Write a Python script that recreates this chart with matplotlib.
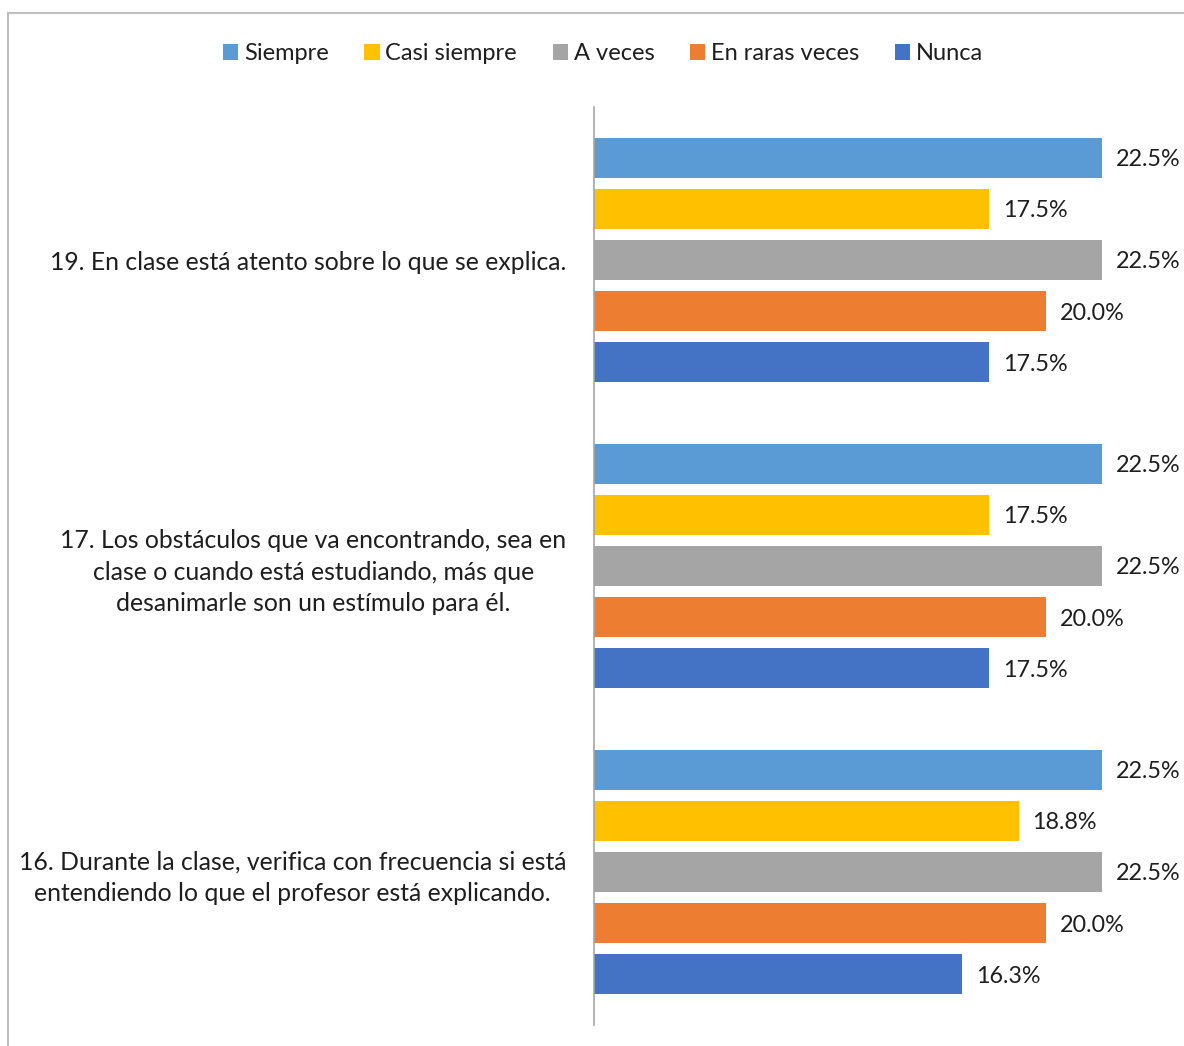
import matplotlib.pyplot as plt
import numpy as np

plt.rcParams['font.family'] = ['Lato', 'DejaVu Sans']

# Data
categories = [
    '19. En clase está atento sobre lo que se explica.',
    '17. Los obstáculos que va encontrando, sea en\nclase o cuando está estudiando, más que\ndesanimarle son un estímulo para él.',
    '16. Durante la clase, verifica con frecuencia si está\nentendiendo lo que el profesor está explicando.',
]
series = ['Siempre', 'Casi siempre', 'A veces', 'En raras veces', 'Nunca']
values = {
    'Siempre': [22.5, 22.5, 22.5],
    'Casi siempre': [17.5, 17.5, 18.8],
    'A veces': [22.5, 22.5, 22.5],
    'En raras veces': [20.0, 20.0, 20.0],
    'Nunca': [17.5, 17.5, 16.3],
}
colors = ['#5b9bd5', '#ffc000', '#a5a5a5', '#ed7d31', '#4472c4']
TEXT = '#1e1e1e'

W, H = 1184, 1046
fig = plt.figure(figsize=(W / 100, H / 100), dpi=100)
ax = fig.add_axes([594 / W, (H - 1025) / H, (W - 594) / W, (1025 - 107) / H])

slot = 51.2 / 306
bar_h = 40 / 306
y = np.arange(len(categories))
for k, name in enumerate(series):
    pos = y + (k - 2) * slot
    ax.barh(pos, values[name], height=bar_h, color=colors[k], label=name)
    for yy, v in zip(pos, values[name]):
        ax.text(v + 14 / 22.58, yy + 0.006, f'{v:.1f}%', va='center', ha='left',
                fontsize=16.8, color=TEXT, clip_on=False)

ax.set_xlim(0, (W - 594) / 22.58)
ax.set_ylim(len(categories) - 0.5, -0.5)
ax.set_yticks(y)
ax.set_yticklabels(categories, fontsize=17.8, color=TEXT, multialignment='center',
                   linespacing=1.44)
ax.tick_params(axis='y', length=0, pad=20)
ax.set_xticks([])
for side in ['top', 'right', 'bottom']:
    ax.spines[side].set_visible(False)
ax.spines['left'].set_color('#a6a6a6')
ax.spines['left'].set_linewidth(1.2)

# chart frame edges (left and top visible)
fig.add_artist(plt.Line2D([8 / W, 8 / W], [0, (H - 13) / H], color='#bfbfbf', lw=1.5))
fig.add_artist(plt.Line2D([8 / W, 1], [(H - 13) / H, (H - 13) / H], color='#bfbfbf', lw=1.5))

fig.legend(loc='center', bbox_to_anchor=(603 / W, (H - 54) / H), ncol=5, frameon=False,
           fontsize=17, handlelength=0.65, handleheight=0.65, handletextpad=0.25,
           columnspacing=1.5, labelcolor=TEXT)

fig.savefig('out.png', dpi=100)
